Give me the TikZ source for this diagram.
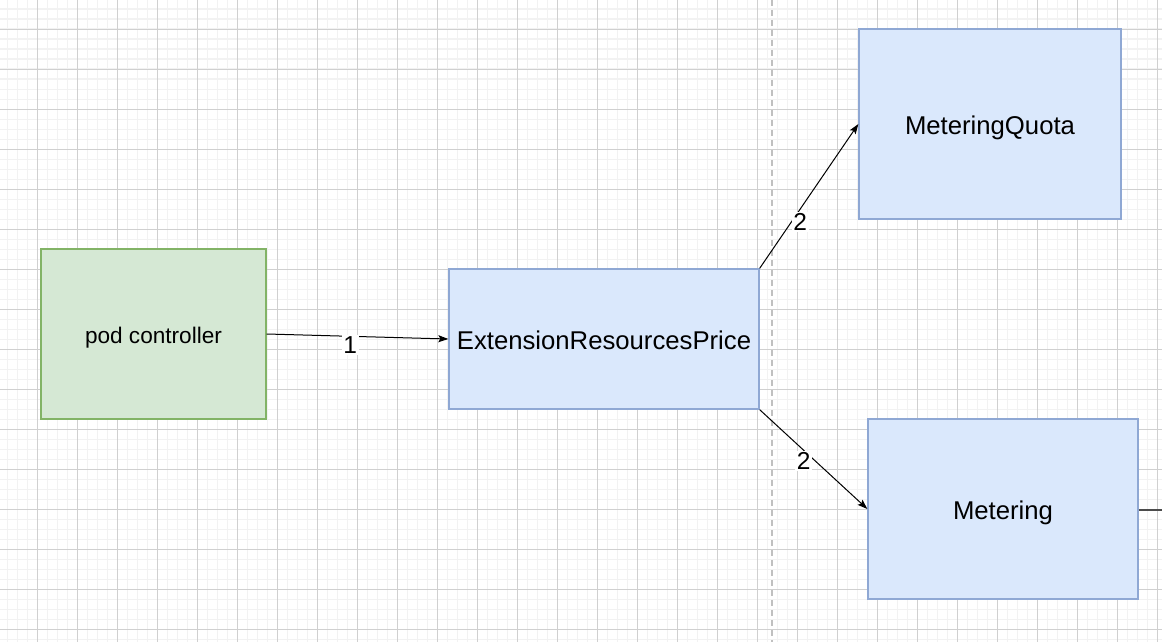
\documentclass[tikz,border=0pt]{standalone}
\usepackage{fontspec}
\setmainfont{Liberation Sans}
\usetikzlibrary{arrows.meta}
\definecolor{gminor}{HTML}{F2F2F2}
\definecolor{gmajor}{HTML}{D0D0D0}
\definecolor{greenfill}{HTML}{D5E8D4}
\definecolor{greenline}{HTML}{82B366}
\definecolor{bluefill}{HTML}{DAE8FC}
\definecolor{blueline}{HTML}{8FA8D4}
\definecolor{dashgray}{HTML}{C0C0C0}
\tikzset{
  minorgrid/.style={draw=gminor, line width=1.6pt},
  majorgrid/.style={draw=gmajor, line width=1pt},
  greenbox/.style={draw=greenline, fill=greenfill, line width=1.3pt, inner sep=0pt,
    text height=18.1pt, text depth=0pt,
    font=\fontsize{22.6}{27}\selectfont},
  bluebox/.style={draw=blueline, fill=bluefill, line width=1.3pt, inner sep=0pt,
    text height=20.6pt, text depth=0pt,
    font=\fontsize{25.7}{30}\selectfont},
  conn/.style={draw=black, line width=1pt, -{Stealth[length=10pt,width=7pt,inset=2pt]}},
  elabel/.style={fill=white, inner sep=1.5pt, font=\fontsize{24.5}{28}\selectfont},
  divider/.style={draw=dashgray, line width=2pt, dash pattern=on 6pt off 4pt},
  outline/.style={draw=black!70, line width=1.3pt}
}
\begin{document}
\begin{tikzpicture}[x=1pt,y=-1pt]
\useasboundingbox (0,0) rectangle (1162,642);
\fill[white] (0,0) rectangle (1162,642);
% grid
\foreach \i in {0,...,116} {\draw[minorgrid] (7.3+10*\i,0) -- (7.3+10*\i,642);}
\foreach \j in {0,...,64} {\draw[minorgrid] (0,9.3+10*\j) -- (1162,9.3+10*\j);}
\foreach \i in {0,...,28} {\draw[majorgrid] (37.3+40*\i,0) -- (37.3+40*\i,642);}
\foreach \j in {0,...,15} {\draw[majorgrid] (0,29.3+40*\j) -- (1162,29.3+40*\j);}
% dashed divider
\coordinate (dtop) at (772,0);
\coordinate (dbot) at (772,642);
\draw[divider] (dtop) -- (dbot);
% nodes
\node[greenbox, minimum width=225pt, minimum height=170pt] (pod) at (153.5,334) {pod controller};
\node[bluebox, minimum width=310pt, minimum height=140pt] (erp) at (604,339) {ExtensionResourcesPrice};
\node[bluebox, minimum width=262pt, minimum height=190pt] (mq) at (990,124) {MeteringQuota};
\node[bluebox, minimum width=270pt, minimum height=180pt] (met) at (1003,509) {Metering};
% connectors
\draw[conn] (pod.east) -- node[elabel, pos=0.46, yshift=-9pt] {1} (erp.west);
\draw[conn] (erp.north east) -- node[elabel, pos=0.3, xshift=11pt, yshift=3pt] {2} (mq.west);
\draw[conn] (erp.south east) -- node[elabel, pos=0.4, xshift=1pt, yshift=-12pt] {2} (met.west);
\coordinate (offright) at (1162,510);
\draw[outline] (met.east |- offright) -- (offright);
\end{tikzpicture}
\end{document}
